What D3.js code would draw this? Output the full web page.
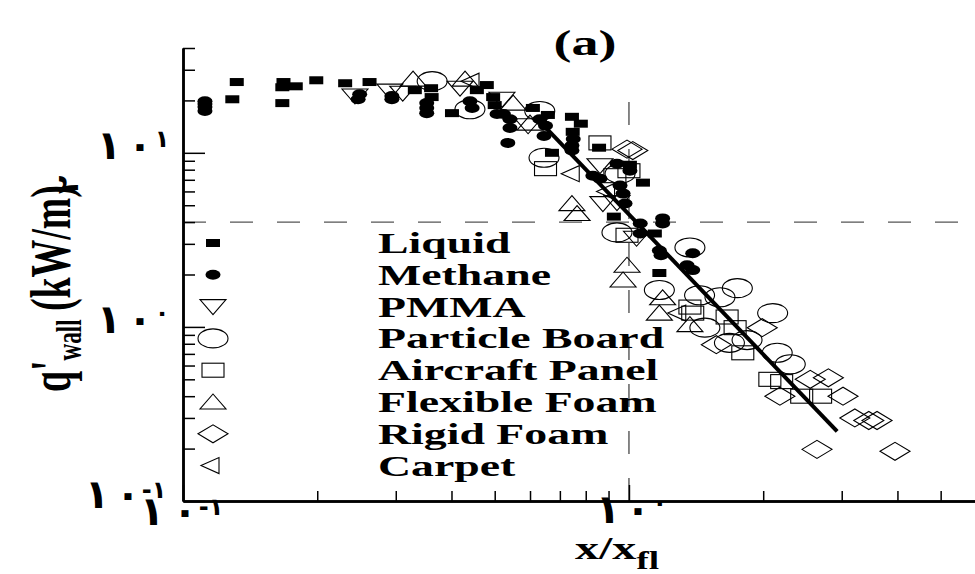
<!DOCTYPE html>
<html>
<head>
<meta charset="utf-8">
<script src="https://cdn.jsdelivr.net/npm/d3@7"></script>
<style>
  body { margin: 0; background: #fff; }
  text { font-family: "Liberation Serif", "DejaVu Serif", serif; }
  .ar { font-family: "DejaVu Sans", sans-serif; font-weight: bold; }
</style>
</head>
<body>
<div id="chart"></div>
<script>
"use strict";

// series: [x/x_fl, q''_wall]
var liquid = [[0.132,25.5],[0.129,20.3],[0.168,25.5],[0.167,23.8],[0.179,24.1],[0.167,19.3],[0.199,26.1],
  [0.231,25.1],[0.262,25.5],[0.331,22.9],[0.360,23.5],[0.361,20.9],[0.401,16.9],[0.456,22.9],[0.480,24.5],
  [0.496,20.9],[0.500,18.8],[0.609,18.1],[0.658,16.5],[0.672,10.0],[0.745,16.1],[0.780,14.7],[0.748,13.2],
  [0.857,10.7],[1.005,8.54],[1.075,6.74],[0.925,4.30],[1.143,3.44],[1.17,2.04]];
var methane = [[0.112,19.8],[0.112,19.1],[0.112,18.3],[0.112,17.4],[0.249,21.7],[0.247,20.3],[0.294,21.2],
  [0.294,20.3],[0.352,19.3],[0.352,18.1],[0.352,16.9],[0.440,19.8],[0.445,18.1],[0.506,16.7],[0.523,16.7],
  [0.541,15.6],[0.541,13.9],[0.535,11.4],[0.631,15.6],[0.650,14.3],[0.645,12.5],[0.750,12.0],[0.745,11.0],
  [0.745,10.3],[0.940,8.65],[1.005,7.89],[0.830,7.39],[0.861,7.10],[0.955,6.48],[0.970,5.83],[0.980,5.11],
  [1.06,3.93],[1.19,3.93],[1.19,4.20],[1.06,3.44],[1.17,2.75],[1.18,2.58],[1.39,2.65],[1.35,2.26],[1.39,2.12]];
var pmma = [[0.243,21.2],[0.291,22.6],[0.311,22.0],[0.418,23.5],[0.519,20.3],[0.594,14.3],[0.874,5.11],
  [0.940,5.18],[1.04,3.23],[0.861,8.43]];
var particleBoard = [[0.362,25.8],[0.440,17.8],[0.631,17.4],[0.645,9.36],[0.955,7.59],[0.940,3.49],[1.37,2.86],
  [1.17,1.63],[1.75,1.67],[1.44,1.52],[1.60,1.48],[2.10,1.20],[1.48,0.99],[1.68,0.81],[1.84,0.84],[2.15,0.71],[2.30,0.61]];
var aircraftPanel = [[0.650,8.11],[0.861,11.4],[0.930,7.39],[0.990,3.36],[1.00,7.89],[1.37,1.30],[1.39,1.20],
  [1.66,1.14],[1.73,0.99],[1.80,0.71],[2.07,0.50],[2.20,0.485],[2.44,0.40],[2.69,0.40]];
var flexibleFoam = [[0.328,26.5],[0.429,26.5],[0.550,19.3],[0.600,14.8],[0.745,5.11],[0.765,4.48],[0.990,2.26],
  [0.970,1.86],[1.19,1.47],[1.17,1.20],[1.37,1.03]];
var rigidFoam = [[0.990,10.5],[1.02,10.3],[1.99,0.99],[1.57,0.79],[2.55,0.50],[2.80,0.51],[2.18,0.40],[3.02,0.40],
  [3.21,0.30],[3.45,0.29],[3.60,0.29],[2.64,0.198],[3.95,0.193]];
var carpet = [[0.447,25.8],[0.750,7.59],[0.900,6.0],[1.30,1.20]];

var correlation = [[0.63,15.2],[2.93,0.251]];

var seriesNames = ["Liquid","Methane","PMMA","Particle Board","Aircraft Panel","Flexible Foam","Rigid Foam","Carpet"];
var seriesData = [liquid, methane, pmma, particleBoard, aircraftPanel, flexibleFoam, rigidFoam, carpet];

var yMajor = [0.1, 1, 10];
var yMinor = [0.2,0.3,0.4,0.5,0.6,0.7,0.8,0.9,2,3,4,5,6,7,8,9,20,30,40];
var xMajor = [0.1, 1];
var xMinor = [0.2,0.3,0.4,0.5,0.6,0.7,0.8,0.9,2,3,4,5];
var yTickExp = ["-\u0661", "\u0660", "\u0661"];
var xTickExp = ["-\u0661", "\u0660"];
var dashQ = 4, dashX = 1;

var W = 975, H = 574;
var x = d3.scaleLog().domain([0.1, 5.97]).range([183, 975]);
var y = d3.scaleLog().domain([0.1, 40]).range([501, 48]);

var svg = d3.select("#chart").append("svg")
    .attr("width", W).attr("height", H);

// marker shapes (pixel space, page is stretched horizontally)
function marker(sel, kind) {
  if (kind === 0) sel.append("rect").attr("x", -7).attr("y", -4).attr("width", 14).attr("height", 8).attr("fill", "#000");
  else if (kind === 1) sel.append("ellipse").attr("rx", 7.5).attr("ry", 5).attr("fill", "#000");
  else if (kind === 2) sel.append("path").attr("d", "M-13,-7L13,-7L0,8Z");
  else if (kind === 3) sel.append("ellipse").attr("rx", 15).attr("ry", 9.5);
  else if (kind === 4) sel.append("rect").attr("x", -11).attr("y", -7).attr("width", 22).attr("height", 14);
  else if (kind === 5) sel.append("path").attr("d", "M-13,7L13,7L0,-8Z");
  else if (kind === 6) sel.append("path").attr("d", "M-15,0L0,-9L15,0L0,9Z");
  else sel.append("path").attr("d", "M-12,0L6,-8L6,8Z");
  sel.selectAll("path,ellipse,rect").filter(function() { return kind > 1; })
    .attr("fill", "none").attr("stroke", "#000").attr("stroke-width", 1.1);
}

// dashed reference lines
svg.append("line")
    .attr("x1", x(0.1)).attr("x2", W).attr("y1", y(dashQ)).attr("y2", y(dashQ))
    .attr("stroke", "#555").attr("stroke-width", 1.4).attr("stroke-dasharray", "23,24");
svg.append("line")
    .attr("x1", x(dashX)).attr("x2", x(dashX)).attr("y1", y(0.1)).attr("y2", y(23))
    .attr("stroke", "#555").attr("stroke-width", 1.4).attr("stroke-dasharray", "23,24");

// data points
seriesData.forEach(function(data, k) {
  svg.append("g").selectAll("g")
    .data(data)
    .enter().append("g")
    .attr("transform", function(d) { return "translate(" + x(d[0]) + "," + y(d[1]) + ")"; })
    .each(function() { marker(d3.select(this), k); });
});

// correlation line
svg.append("path")
    .datum(correlation)
    .attr("d", d3.line().x(function(d) { return x(d[0]); }).y(function(d) { return y(d[1]); }))
    .attr("stroke", "#000").attr("stroke-width", 4).attr("fill", "none");

// axes
svg.append("g").attr("transform", "translate(" + x(0.1) + ",0)")
    .call(d3.axisRight(y).tickValues(yMinor).tickSize(12).tickSizeOuter(0).tickFormat(""));
svg.append("g").attr("transform", "translate(" + x(0.1) + ",0)")
    .call(d3.axisRight(y).tickValues(yMajor).tickSize(22).tickSizeOuter(0).tickFormat(""));
svg.append("g").attr("transform", "translate(0," + y(0.1) + ")")
    .call(d3.axisTop(x).tickValues(xMinor).tickSize(10).tickSizeOuter(0).tickFormat(""));
svg.append("g").attr("transform", "translate(0," + y(0.1) + ")")
    .call(d3.axisTop(x).tickValues(xMajor).tickSize(16).tickSizeOuter(0).tickFormat(""));
svg.selectAll(".domain").attr("stroke-width", 2.5);
svg.selectAll(".tick line").attr("stroke-width", 1.5);

// tick labels: Arabic-Indic 10^n, each glyph placed on its own
function powLabel(g, cx, by, exp, step) {
  var t = g.append("text").attr("class", "ar").attr("fill", "#000")
      .attr("text-anchor", "middle").attr("font-size", 40);
  t.append("tspan").attr("x", cx).attr("y", by).text("\u0661");
  t.append("tspan").attr("x", cx + step[0]).attr("y", by).text("\u0660");
  var sx = cx + step[0] + step[1];
  if (exp.length > 1) {
    t.append("tspan").attr("x", sx + 4).attr("y", by - 10).attr("font-size", 24).text(exp);
  } else {
    t.append("tspan").attr("x", sx).attr("y", by - 12).attr("font-size", 24).text(exp);
  }
}
var labels = svg.append("g");
yMajor.forEach(function(v, i) {
  if (i === 0) powLabel(labels, 97, y(v) + 7, yTickExp[i], [31, 22]);
  else powLabel(labels, 109, y(v) + 6, yTickExp[i], [31, 22]);
});
xMajor.forEach(function(v, i) {
  if (i === 0) powLabel(labels, x(v) - 31, y(0.1) + 24, xTickExp[i], [33, 22]);
  else powLabel(labels, x(v) - 21, y(0.1) + 22, xTickExp[i], [30, 22]);
});

// legend
var legend = svg.append("g");
seriesNames.forEach(function(name, k) {
  var ly = 243 + k * 31.8;
  legend.append("g").attr("transform", "translate(213," + ly + ")")
    .each(function() { marker(d3.select(this), k); });
  legend.append("text")
    .attr("transform", "translate(378," + (ly + 10) + ") scale(1.58,1)")
    .attr("font-size", 29).attr("font-weight", "bold")
    .text(name);
});

// title
svg.append("text")
    .attr("transform", "translate(585,55) scale(1.5,1)")
    .attr("text-anchor", "middle").attr("font-size", 36).attr("font-weight", "bold")
    .text("(a)");

// x title
var xt = svg.append("text")
    .attr("transform", "translate(575,559) scale(1.5,1)")
    .attr("font-size", 32).attr("font-weight", "bold");
xt.append("tspan").text("x/x");
xt.append("tspan").attr("dy", 10).attr("font-size", 25).text("fl");

// y title
var yt = svg.append("text")
    .attr("transform", "translate(70,392) rotate(-90) scale(1.05,1.6)")
    .attr("font-size", 36).attr("font-weight", "bold");
yt.append("tspan").text("q'");
yt.append("tspan").attr("dy", 7).attr("font-size", 22).text("wall");
yt.append("tspan").attr("dy", -7).attr("dx", 8).text("(kW/m)");
svg.append("text")
    .attr("transform", "translate(78,194) rotate(-90)")
    .attr("class", "ar").attr("font-size", 30)
    .text("\u0662");
</script>
</body>
</html>
